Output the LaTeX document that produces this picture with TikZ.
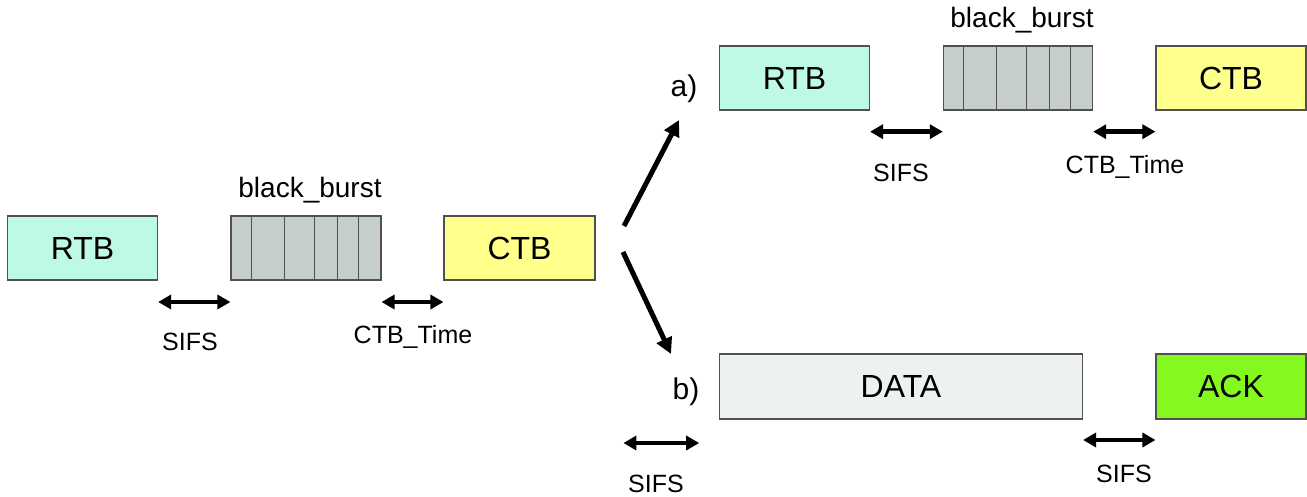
\documentclass[tikz,border=0pt]{standalone}
\usepackage{fontspec}
\setmainfont{Liberation Sans}
\usetikzlibrary{arrows.meta}
\definecolor{rtbfill}{RGB}{190,248,230}
\definecolor{ctbfill}{RGB}{255,255,140}
\definecolor{burstfill}{RGB}{197,205,205}
\definecolor{datafill}{RGB}{238,241,242}
\definecolor{ackfill}{RGB}{133,249,31}
\definecolor{edge}{RGB}{80,80,80}
\tikzset{
  frame/.style={draw=edge, line width=1.1pt, inner sep=0pt, minimum height=64pt,
    font=\fontsize{32}{36}\selectfont},
  slot/.style={frame, minimum width=150pt},
  divider/.style={draw=edge, line width=0.9pt},
  gap/.style={line width=4.6pt, {Triangle[length=13pt,width=14pt]}-{Triangle[length=13pt,width=14pt]}},
  branch/.style={line width=5pt, -{Triangle[length=16pt,width=16pt]}},
  lbl/.style={inner sep=0pt, font=\fontsize{25}{28}\selectfont},
  burstlbl/.style={inner sep=0pt, font=\fontsize{28}{32}\selectfont},
  tag/.style={inner sep=0pt, font=\fontsize{30}{34}\selectfont}
}
\begin{document}
\begin{tikzpicture}[x=1pt, y=-1pt]
\useasboundingbox (0,0) rectangle (1307,497);

% ---- initial exchange ----
\node[slot, fill=rtbfill] (rtbL) at (82.6,248) {RTB};
\node[slot, fill=burstfill] (burstL) at (306,248) {};
\node[slot, minimum width=151pt, fill=ctbfill] (ctbL) at (519.5,248) {CTB};
\foreach \dx in {21,54,84,107,128}
  \draw[divider] ([xshift=\dx pt]burstL.north west) -- ([xshift=\dx pt]burstL.south west);
\node[burstlbl] (bbL) at (310,190) {black\_burst};

\coordinate (yL) at (0,302);
\draw[gap] (rtbL.east |- yL) -- (burstL.west |- yL);
\draw[gap] (burstL.east |- yL) -- (ctbL.west |- yL);
\node[lbl] (sifsL) at (190,342) {SIFS};
\node[lbl] (ctbtL) at (413,337) {CTB\_Time};

% ---- branch arrows ----
\node[tag] (ta) at (684,89) {a)};
\node[tag] (tb) at (686,392) {b)};
\coordinate (fromA) at (624,226);
\coordinate (toA) at (679,120);
\coordinate (fromB) at (623,252);
\coordinate (toB) at (671,354);
\draw[branch] (fromA) -- (toA);
\draw[branch] (fromB) -- (toB);

% ---- case a) ----
\node[slot, fill=rtbfill] (rtbA) at (794.5,78) {RTB};
\node[slot, minimum width=149.3pt, fill=burstfill] (burstA) at (1018,78) {};
\node[slot, fill=ctbfill] (ctbA) at (1231,78) {CTB};
\foreach \dx in {21,54,84,107,128}
  \draw[divider] ([xshift=\dx pt]burstA.north west) -- ([xshift=\dx pt]burstA.south west);
\node[burstlbl] (bbA) at (1022,20) {black\_burst};

\coordinate (yA) at (0,131.7);
\draw[gap] (rtbA.east |- yA) -- (burstA.west |- yA);
\draw[gap] (burstA.east |- yA) -- (ctbA.west |- yA);
\node[lbl] (sifsA) at (901,173) {SIFS};
\node[lbl] (ctbtA) at (1125,167) {CTB\_Time};

% ---- case b) ----
\node[frame, minimum width=363pt, minimum height=65pt, fill=datafill] (dataB) at (901,386.5) {DATA};
\node[frame, minimum width=150pt, minimum height=65pt, fill=ackfill] (ackB) at (1231,386.5) {ACK};

\coordinate (sB1) at (623.4,443);
\coordinate (sB2) at (699.2,443);
\draw[gap] (sB1) -- (sB2);
\coordinate (yB) at (0,440);
\draw[gap] (dataB.east |- yB) -- (ackB.west |- yB);
\node[lbl] (sifsB1) at (656,484) {SIFS};
\node[lbl] (sifsB2) at (1124,474) {SIFS};
\end{tikzpicture}
\end{document}
